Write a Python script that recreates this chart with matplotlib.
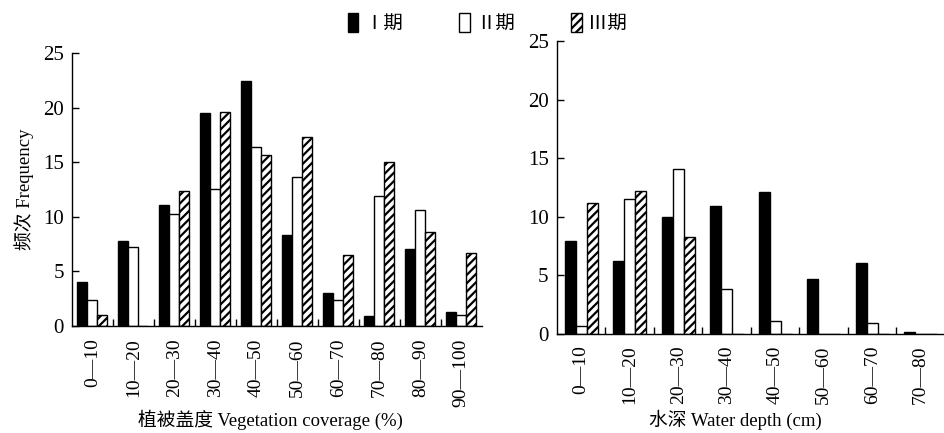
import numpy as np
import matplotlib
matplotlib.use("Agg")
import matplotlib.pyplot as plt
from matplotlib.patches import Patch

plt.rcParams['font.family'] = ['Liberation Serif', 'Noto Sans CJK SC', 'DejaVu Sans']
plt.rcParams['hatch.linewidth'] = 1.6

# vegetation coverage (%)
veg_cats = ["0—10", "10—20", "20—30", "30—40", "40—50",
            "50—60", "60—70", "70—80", "80—90", "90—100"]
veg_p1 = [4.0, 7.8, 11.1, 19.5, 22.5, 8.3, 3.0, 0.9, 7.1, 1.3]
veg_p2 = [2.4, 7.2, 10.3, 12.6, 16.4, 13.7, 2.4, 11.9, 10.6, 1.0]
veg_p3 = [1.0, 0.0, 12.4, 19.6, 15.7, 17.3, 6.5, 15.0, 8.6, 6.7]

# water depth (cm)
dep_cats = ["0—10", "10—20", "20—30", "30—40", "40—50", "50—60", "60—70", "70—80"]
dep_p1 = [7.9, 6.2, 10.0, 10.9, 12.1, 4.7, 6.1, 0.2]
dep_p2 = [0.7, 11.5, 14.1, 3.8, 1.1, 0.0, 0.9, 0.0]
dep_p3 = [11.2, 12.2, 8.3, 0.0, 0.0, 0.0, 0.0, 0.0]

legend_labels = ["Ⅰ期", "Ⅱ期", "Ⅲ期"]

styles = [dict(facecolor='black', edgecolor='black'),
          dict(facecolor='white', edgecolor='black'),
          dict(facecolor='white', edgecolor='black', hatch='////')]


def bar_panel(ax, cats, series, offset, width, label_pad):
    n = len(cats)
    x = np.arange(n)
    for i, (vals, st) in enumerate(zip(series, styles)):
        ax.bar(x + offset + width * (i + 0.5), vals, width, linewidth=1.0, **st)
    ax.set_xlim(0, n)
    ax.set_ylim(0, 25)
    ax.set_yticks([0, 5, 10, 15, 20, 25])
    # group boundaries as small inward ticks, labels at group centres
    ax.set_xticks(np.arange(1, n))
    ax.set_xticklabels([])
    ax.set_xticks(x + 0.5, minor=True)
    ax.set_xticklabels(cats, minor=True, rotation=90, va='top', fontsize=14)
    ax.tick_params(axis='x', which='major', direction='in', length=5, width=1)
    ax.tick_params(axis='x', which='minor', length=0, pad=label_pad)
    ax.tick_params(axis='y', direction='in', length=5, width=1, labelsize=15, pad=6)
    for s in ['top', 'right']:
        ax.spines[s].set_visible(False)
    for s in ['left', 'bottom']:
        ax.spines[s].set_linewidth(1.0)


fig = plt.figure(figsize=(9.44, 4.33), dpi=100)
ax1 = fig.add_axes([0.0763, 0.247, 0.434, 0.630])
ax2 = fig.add_axes([0.590, 0.2286, 0.411, 0.6767])

bar_panel(ax1, veg_cats, [veg_p1, veg_p2, veg_p3], 0.13, 0.245, 9)
bar_panel(ax2, dep_cats, [dep_p1, dep_p2, dep_p3], 0.16, 0.226, 8)

ax1.set_ylabel("频次 Frequency", fontsize=13.5, labelpad=6)
fig.text(0.286, 0.030, "植被盖度 Vegetation coverage (%)", fontsize=13.5,
         ha='center', va='center')
fig.text(0.779, 0.030, "水深 Water depth (cm)", fontsize=13.5,
         ha='center', va='center')

handles = [Patch(linewidth=1.0, label=l, **st) for l, st in zip(legend_labels, styles)]
fig.legend(handles=handles, loc='upper center', bbox_to_anchor=(0.516, 1.01),
           ncol=3, frameon=False, fontsize=14, handlelength=0.55, handleheight=1.1,
           handletextpad=0.3, columnspacing=2.9)

fig.savefig("out.png", dpi=100)
